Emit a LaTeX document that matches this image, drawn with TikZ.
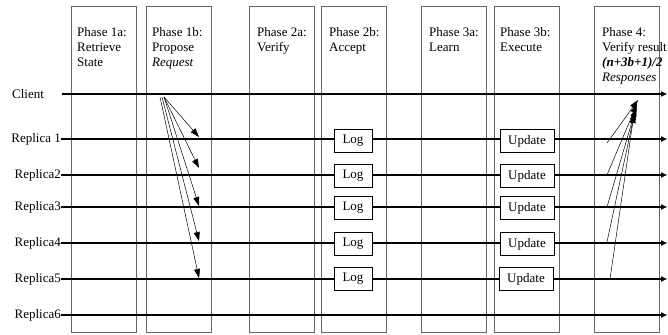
\documentclass[tikz,border=0pt]{standalone}
\usepackage{fontspec}
\setmainfont{Liberation Serif}
\usetikzlibrary{arrows.meta, positioning}

\begin{document}
\begin{tikzpicture}[x=1pt, y=-1pt, >=Stealth, font=\fontsize{13}{15}\selectfont,
    phase/.style={draw=black!60, line width=0.8pt, minimum width=65pt, minimum height=326pt, anchor=north west, inner sep=0pt},
    phasetext/.style={anchor=north west, align=left, inner sep=0pt},
    lane/.style={line width=1.6pt, -{Triangle[length=6pt, width=5pt]}},
    msg/.style={line width=0.5pt, -{Triangle[length=9pt, width=6pt]}},
    logbox/.style={draw, line width=0.6pt, fill=white, minimum width=38pt, minimum height=23pt, inner sep=0pt},
    updbox/.style={logbox, minimum width=54pt},
    lbl/.style={anchor=east, inner sep=0pt}]
    \useasboundingbox (0,0) rectangle (668,334);

    % Phase columns
    \node[phase] (p1a) at (71,6) {};
    \node[phase] (p1b) at (146,6) {};
    \node[phase] (p2a) at (249,6) {};
    \node[phase] (p2b) at (321,6) {};
    \node[phase] (p3a) at (421,6) {};
    \node[phase] (p3b) at (494,6) {};
    \node[phase] (p4) at (594,6) {};

    % Phase titles
    \node[phasetext] (t1a) at (77,27) {Phase 1a:\\Retrieve\\State};
    \node[phasetext] (t1b) at (152,27) {Phase 1b:\\Propose\\\textit{Request}};
    \node[phasetext] (t2a) at (257,27) {Phase 2a:\\Verify};
    \node[phasetext] (t2b) at (329,27) {Phase 2b:\\Accept};
    \node[phasetext] (t3a) at (429,27) {Phase 3a:\\Learn};
    \node[phasetext] (t3b) at (500,27) {Phase 3b:\\Execute};
    \node[phasetext] (t4) at (602,27) {Phase 4:\\Verify result\\\textbf{\textit{(n+3b+1)/2}}\\\textit{Responses}};

    % Time lines
    \node[anchor=west, inner sep=0pt] (client) at (12,94) {Client};
    \coordinate (cl-s) at (62,94);
    \coordinate (cl-e) at (667,94);
    \draw[lane] (cl-s) -- (cl-e);

    \node[lbl] (rep1) at (61,139) {Replica 1};
    \node[lbl] (rep2) at (61,175) {Replica2};
    \node[lbl] (rep3) at (61,207) {Replica3};
    \node[lbl] (rep4) at (61,243) {Replica4};
    \node[lbl] (rep5) at (61,279) {Replica5};
    \node[lbl] (rep6) at (61,315) {Replica6};
    \coordinate (r1-e) at (667,139);
    \coordinate (r2-e) at (667,175);
    \coordinate (r3-e) at (667,207);
    \coordinate (r4-e) at (667,243);
    \coordinate (r5-e) at (667,279);
    \coordinate (r6-e) at (667,315);
    \draw[lane] (rep1.east) -- (r1-e);
    \draw[lane] (rep2.east) -- (r2-e);
    \draw[lane] (rep3.east) -- (r3-e);
    \draw[lane] (rep4.east) -- (r4-e);
    \draw[lane] (rep5.east) -- (r5-e);
    \draw[lane] (rep6.east) -- (r6-e);

    % Log and Update boxes
    \node[logbox] (log1) at (353,141) {Log};
    \node[logbox] (log2) at (353,176) {Log};
    \node[logbox] (log3) at (353,208) {Log};
    \node[logbox] (log4) at (353,244) {Log};
    \node[logbox] (log5) at (353,279) {Log};
    \node[updbox] (upd1) at (527,141) {Update};
    \node[updbox] (upd2) at (527,176) {Update};
    \node[updbox] (upd3) at (527,208) {Update};
    \node[updbox] (upd4) at (527,244) {Update};
    \node[updbox] (upd5) at (526,279) {Update};

    % Request from client to replicas
    \coordinate (req-a) at (164,97);
    \coordinate (req-b) at (162,97);
    \coordinate (req-c) at (160,97);
    \coordinate (q1) at (199,137);
    \coordinate (q2) at (199,168);
    \coordinate (q3) at (199,206);
    \coordinate (q4) at (199,241);
    \coordinate (q5) at (199,278);
    \draw[msg] (req-a) -- (q1);
    \draw[msg] (req-a) -- (q2);
    \draw[msg] (req-a) -- (q3);
    \draw[msg] (req-b) -- (q4);
    \draw[msg] (req-c) -- (q5);

    % Responses back to client
    \coordinate (a1) at (607,143);
    \coordinate (a2) at (607,175);
    \coordinate (a3) at (607,207);
    \coordinate (a4) at (607,242);
    \coordinate (a5) at (610,279);
    \coordinate (s1) at (638,100);
    \coordinate (s2) at (637,104);
    \coordinate (s3) at (636,108);
    \coordinate (s4) at (635,111);
    \coordinate (s5) at (634,114);
    \draw[msg] (a1) -- (s1);
    \draw[msg] (a2) -- (s2);
    \draw[msg] (a3) -- (s3);
    \draw[msg] (a4) -- (s4);
    \draw[msg] (a5) -- (s5);

\end{tikzpicture}
\end{document}
